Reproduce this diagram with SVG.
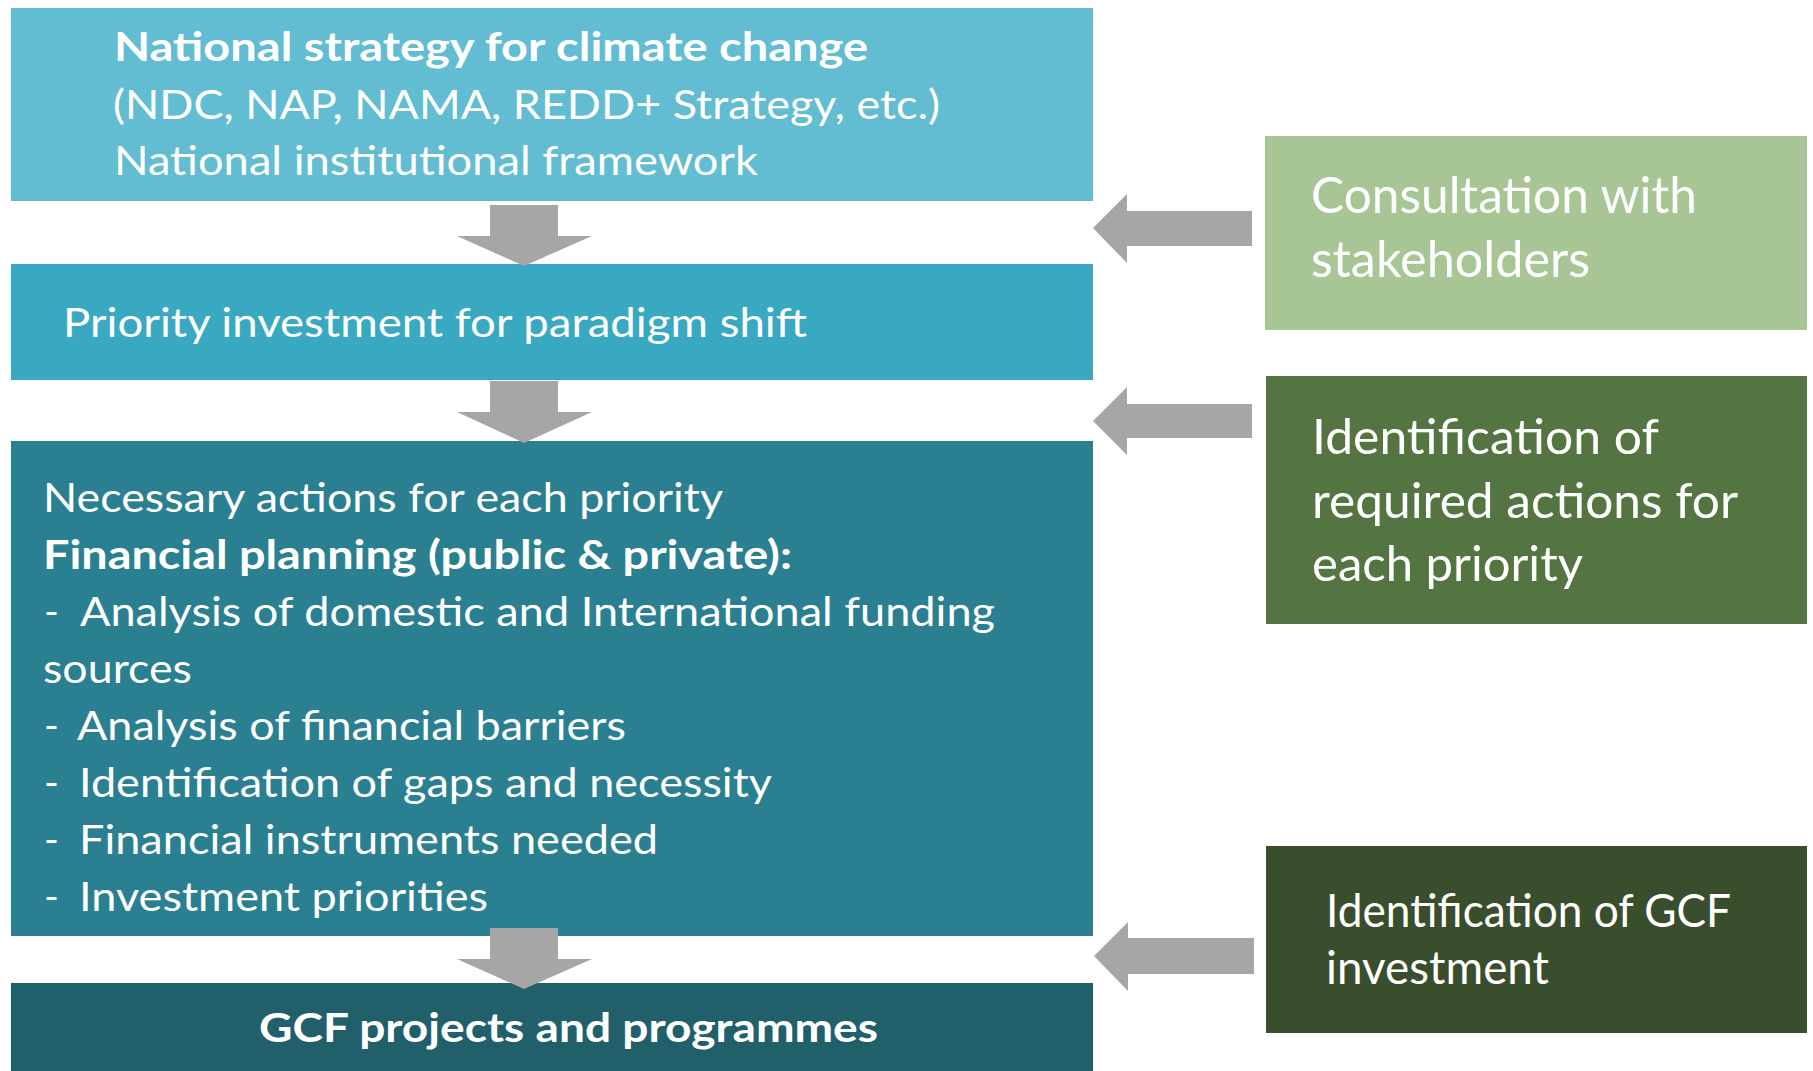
<svg xmlns="http://www.w3.org/2000/svg" width="1813" height="1071" viewBox="0 0 1813 1071">
<style>
  .t { font-family: Lato, "Open Sans", "Liberation Sans", sans-serif; fill: #ffffff; font-weight: 400; }
  .b { font-weight: 700; }
  .arrow { fill: #A6A6A6; }
</style>
<rect x="0" y="0" width="1813" height="1071" fill="#ffffff"/>
<g id="node-strategy">
  <rect x="11" y="8" width="1082" height="193" fill="#62BDD2"/>
  <text class="t b" x="114" y="61" font-size="40" textLength="754" lengthAdjust="spacingAndGlyphs">National strategy for climate change</text>
  <text class="t" x="113" y="119" font-size="40" textLength="827" lengthAdjust="spacingAndGlyphs">(NDC, NAP, NAMA, REDD+ Strategy, etc.)</text>
  <text class="t" x="114" y="175" font-size="40" textLength="644" lengthAdjust="spacingAndGlyphs">National institutional framework</text>
</g>
<g id="node-priority">
  <rect x="11" y="264" width="1082" height="116" fill="#39A9C2"/>
  <text class="t" x="63" y="337" font-size="40" textLength="744" lengthAdjust="spacingAndGlyphs">Priority investment for paradigm shift</text>
</g>
<g id="node-actions">
  <rect x="11" y="441" width="1082" height="495" fill="#2A7F90"/>
  <text class="t" x="43" y="512" font-size="40" textLength="680" lengthAdjust="spacingAndGlyphs">Necessary actions for each priority</text>
  <text class="t b" x="43" y="569" font-size="40" textLength="749" lengthAdjust="spacingAndGlyphs">Financial planning (public &amp; private):</text>
  <text class="t" x="44" y="626" font-size="40">-</text>
  <text class="t" x="80" y="626" font-size="40" textLength="915" lengthAdjust="spacingAndGlyphs">Analysis of domestic and International funding</text>
  <text class="t" x="43" y="683" font-size="40" textLength="149" lengthAdjust="spacingAndGlyphs">sources</text>
  <text class="t" x="44" y="740" font-size="40">-</text>
  <text class="t" x="77" y="740" font-size="40" textLength="549" lengthAdjust="spacingAndGlyphs">Analysis of financial barriers</text>
  <text class="t" x="44" y="797" font-size="40">-</text>
  <text class="t" x="79" y="797" font-size="40" textLength="693" lengthAdjust="spacingAndGlyphs">Identification of gaps and necessity</text>
  <text class="t" x="44" y="854" font-size="40">-</text>
  <text class="t" x="79" y="854" font-size="40" textLength="579" lengthAdjust="spacingAndGlyphs">Financial instruments needed</text>
  <text class="t" x="44" y="911" font-size="40">-</text>
  <text class="t" x="79" y="911" font-size="40" textLength="409" lengthAdjust="spacingAndGlyphs">Investment priorities</text>
</g>
<g id="node-gcf-projects">
  <rect x="11" y="983" width="1082" height="88" fill="#215F6B"/>
  <text class="t b" x="259" y="1042" font-size="40" textLength="619" lengthAdjust="spacingAndGlyphs">GCF projects and programmes</text>
</g>
<g id="node-consultation">
  <rect x="1265" y="136" width="542" height="194" fill="#A8C596"/>
  <text class="t" x="1311" y="213" font-size="50" textLength="386" lengthAdjust="spacingAndGlyphs">Consultation with</text>
  <text class="t" x="1311" y="277" font-size="50" textLength="279" lengthAdjust="spacingAndGlyphs">stakeholders</text>
</g>
<g id="node-required-actions">
  <rect x="1266" y="376" width="541" height="248" fill="#547541"/>
  <text class="t" x="1312" y="454" font-size="49" textLength="347" lengthAdjust="spacingAndGlyphs">Identification of</text>
  <text class="t" x="1312" y="518" font-size="49" textLength="426" lengthAdjust="spacingAndGlyphs">required actions for</text>
  <text class="t" x="1312" y="581" font-size="49" textLength="271" lengthAdjust="spacingAndGlyphs">each priority</text>
</g>
<g id="node-gcf-investment">
  <rect x="1266" y="846" width="541" height="187" fill="#394E2C"/>
  <text class="t" x="1326" y="927" font-size="46" textLength="405" lengthAdjust="spacingAndGlyphs">Identification of GCF</text>
  <text class="t" x="1326" y="984" font-size="46" textLength="223" lengthAdjust="spacingAndGlyphs">investment</text>
</g>
<g id="connectors">
  <polygon class="arrow" points="490,205 558,205 558,236 592,236 524,266 457,236 490,236"/>
  <polygon class="arrow" points="490,381 558,381 558,412 592,412 524,443 457,412 490,412"/>
  <polygon class="arrow" points="490,928 558,928 558,959 592,959 524,989 457,959 490,959"/>
  <polygon class="arrow" points="1252,211 1252,246 1127,246 1127,263 1093,228 1127,194 1127,211"/>
  <polygon class="arrow" points="1252,404 1252,438 1127,438 1127,455 1093,421 1127,387 1127,404"/>
  <polygon class="arrow" points="1254,938 1254,974 1128,974 1128,991 1094,956 1128,922 1128,938"/>
</g>
</svg>
